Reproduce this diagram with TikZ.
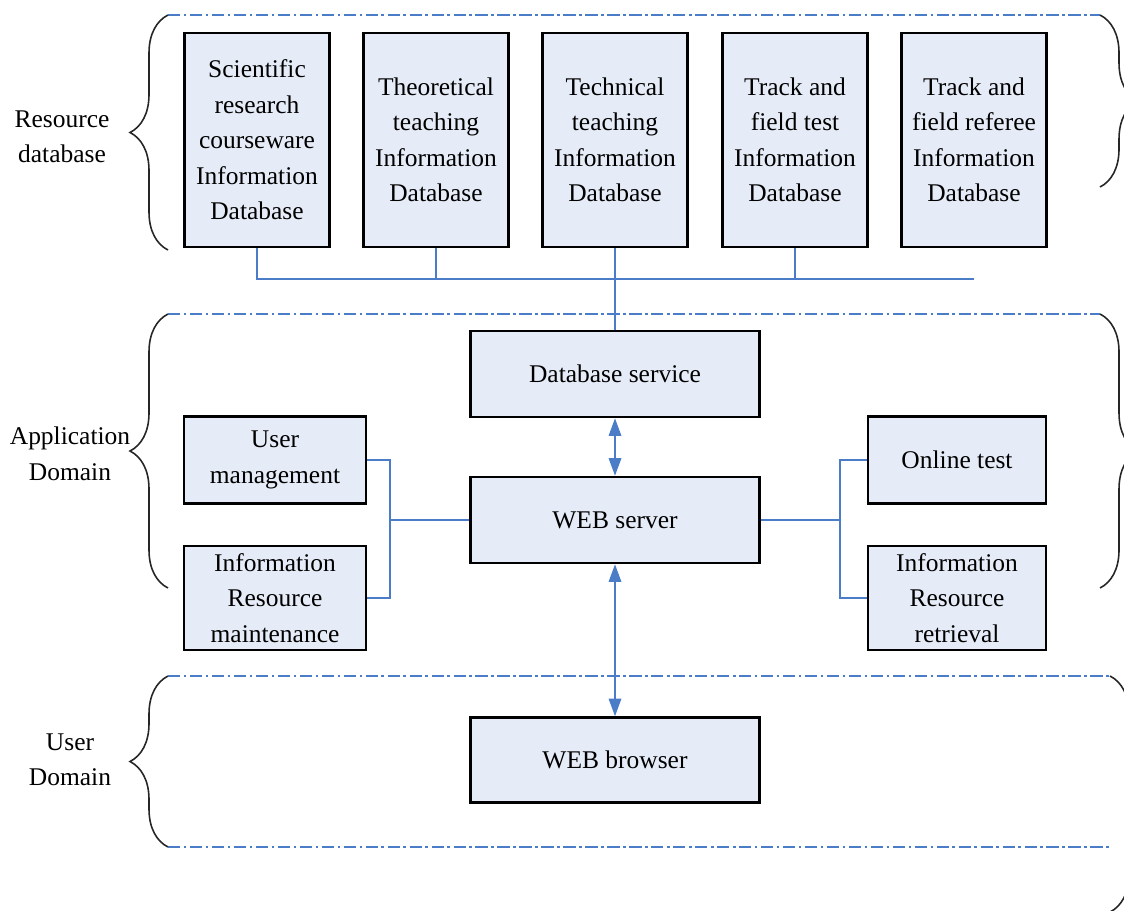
\documentclass[tikz,border=0pt]{standalone}
\usepackage{fontspec}
\setmainfont{Liberation Serif}
\usetikzlibrary{arrows.meta,decorations.pathreplacing}
\definecolor{boxfill}{RGB}{230,236,247}
\definecolor{linkblue}{RGB}{74,124,200}
\tikzset{
  txt/.style={font=\fontsize{14.5}{20.2}\selectfont,align=center},
  dbbox/.style={txt,draw=black,line width=1.4pt,fill=boxfill,inner sep=2pt},
  tallbox/.style={dbbox,minimum width=2.9cm,minimum height=4.28cm},
  widebox/.style={dbbox,minimum width=5.78cm,minimum height=1.72cm},
  link/.style={draw=linkblue,line width=1.2pt},
  twoway/.style={link,{Triangle[length=10pt,width=7pt]}-{Triangle[length=10pt,width=7pt]}},
  layerline/.style={draw=linkblue,line width=1.2pt,dash pattern=on 7pt off 2pt on 1.5pt off 2pt},
  layerbrace/.style={draw=black!85,line width=0.9pt,decorate,decoration={brace,amplitude=0.76cm}}
}
\begin{document}
\begin{tikzpicture}[x=0.02cm,y=-0.02cm]
\useasboundingbox (0,0) rectangle (1124,910);
%layers
\draw[layerline] (168,15) -- (1100,15);
\draw[layerline] (168,314) -- (1100,314);
\draw[layerline] (168,676) -- (1110,676);
\draw[layerline] (168,847) -- (1110,847);
\draw[layerbrace] (168,250) -- (168,15);
\draw[layerbrace] (168,588) -- (168,314);
\draw[layerbrace] (168,847) -- (168,676);
\draw[layerbrace] (1100,15) -- (1100,187);
\draw[layerbrace] (1100,314) -- (1100,588);
\draw[layerbrace] (1110,676) -- (1110,912);
\node[txt] (reslabel) at (62,137) {Resource\\database};
\node[txt] (applabel) at (70,454) {Application\\Domain};
\node[txt] (userlabel) at (70,760) {User\\Domain};
%resource database
\node[tallbox] (scidb) at (257,140) {Scientific\\research\\courseware\\Information\\Database};
\node[tallbox] (theodb) at (436,140) {Theoretical\\teaching\\Information\\Database};
\node[tallbox] (techdb) at (615,140) {Technical\\teaching\\Information\\Database};
\node[tallbox] (testdb) at (795,140) {Track and\\field test\\Information\\Database};
\node[tallbox] (refdb) at (974,140) {Track and\\field referee\\Information\\Database};
\coordinate (busend) at (974,279);
\draw[link] (scidb.south) |- (busend);
\draw[link] (theodb.south) -- (theodb.south |- busend);
\draw[link] (testdb.south) -- (testdb.south |- busend);
%application domain
\node[widebox] (dbservice) at (615,374) {Database service};
\node[widebox] (webserver) at (615,520) {WEB server};
\node[dbbox,minimum width=3.64cm,minimum height=1.74cm] (usermgmt) at (275,460) {User\\management};
\node[dbbox,minimum width=3.64cm,minimum height=2.08cm] (resmaint) at (275,598) {Information\\Resource\\maintenance};
\node[dbbox,minimum width=3.56cm,minimum height=1.74cm] (onlinetest) at (957,460) {Online test};
\node[dbbox,minimum width=3.56cm,minimum height=2.08cm] (resretr) at (957,598) {Information\\Resource\\retrieval};
\draw[link] (techdb.south) -- (techdb.south |- dbservice.north);
\draw[twoway] (dbservice.south) -- (webserver.north);
\coordinate (ljoin) at (390,520);
\coordinate (rjoin) at (840,520);
\draw[link] (usermgmt.east) -| (ljoin) |- (resmaint.east);
\draw[link] (ljoin) -- (webserver.west);
\draw[link] (webserver.east) -- (rjoin);
\draw[link] (onlinetest.west) -| (rjoin) |- (resretr.west);
%user domain
\node[widebox,minimum height=1.7cm] (browser) at (615,760) {WEB browser};
\draw[twoway] (webserver.south) -- (browser.north);
\end{tikzpicture}
\end{document}
